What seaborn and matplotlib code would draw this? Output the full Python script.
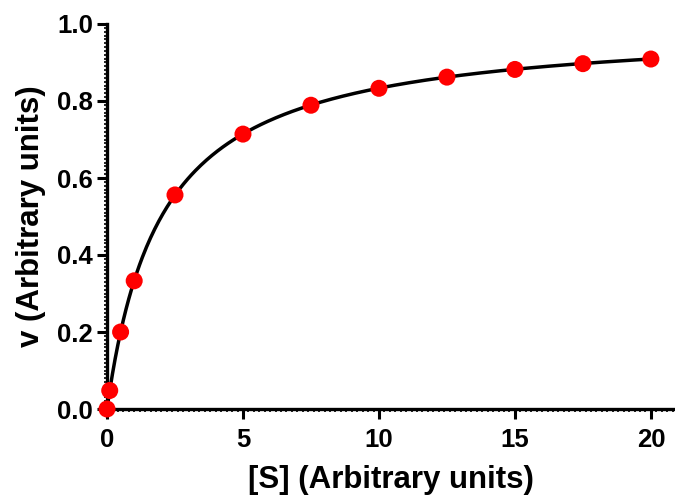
import numpy as np
import pandas as pd
import matplotlib
matplotlib.use("Agg")
import matplotlib.pyplot as plt
from matplotlib.ticker import MultipleLocator, FormatStrFormatter
import seaborn as sns

# datos medidos
sustrato = [0, 0.1, 0.5, 1, 2.5, 5, 7.5, 10, 12.5, 15, 17.5, 20]
velocidad = [0.0, 0.048, 0.200, 0.333, 0.556, 0.714, 0.789, 0.833, 0.862, 0.882, 0.897, 0.909]

# parametros del ajuste Michaelis-Menten
vmax = 1.0
km = 2.0

df = pd.DataFrame({"S": sustrato, "v": velocidad})
s_fit = np.linspace(0, 20, 400)
ajuste = pd.DataFrame({"S": s_fit, "v": vmax * s_fit / (km + s_fit)})

sns.set_style("ticks")
plt.rcParams["font.family"] = ["Liberation Sans", "DejaVu Sans"]
plt.rcParams["font.weight"] = "bold"
for k in ["text.color", "axes.labelcolor", "xtick.color", "ytick.color", "axes.edgecolor"]:
    plt.rcParams[k] = "black"

fig = plt.figure(figsize=(6.75, 4.98), dpi=100)
ax = fig.add_axes([107 / 675, 89 / 498, 567 / 675, 385 / 498])

sns.lineplot(data=ajuste, x="S", y="v", color="black", linewidth=2.5, ax=ax, zorder=2)
sns.scatterplot(data=df, x="S", y="v", color="red", s=150, edgecolor="none", ax=ax, zorder=3, clip_on=False)

ax.set_xlim(0, 20.85)
ax.set_ylim(0, 1.0)
ax.xaxis.set_major_locator(MultipleLocator(5))
ax.yaxis.set_major_locator(MultipleLocator(0.2))
ax.xaxis.set_minor_locator(MultipleLocator(0.2))
ax.yaxis.set_minor_locator(MultipleLocator(0.01))
ax.yaxis.set_major_formatter(FormatStrFormatter("%.1f"))

ax.tick_params(which="major", direction="out", length=7, width=2.2, labelsize=18.5)
ax.tick_params(axis="x", which="major", pad=7)
ax.tick_params(axis="y", which="major", pad=3)
ax.tick_params(which="minor", direction="out", length=2.5, width=1.2)
for lab in ax.get_xticklabels() + ax.get_yticklabels():
    lab.set_fontweight("bold")

sns.despine(ax=ax)
for sp in ["left", "bottom"]:
    ax.spines[sp].set_linewidth(2.4)

ax.set_xlabel("[S] (Arbitrary units)", fontsize=22.5, fontweight="bold", labelpad=9)
ax.set_ylabel("v (Arbitrary units)", fontsize=22.5, fontweight="bold", labelpad=8)

plt.savefig("out.png", dpi=100)
